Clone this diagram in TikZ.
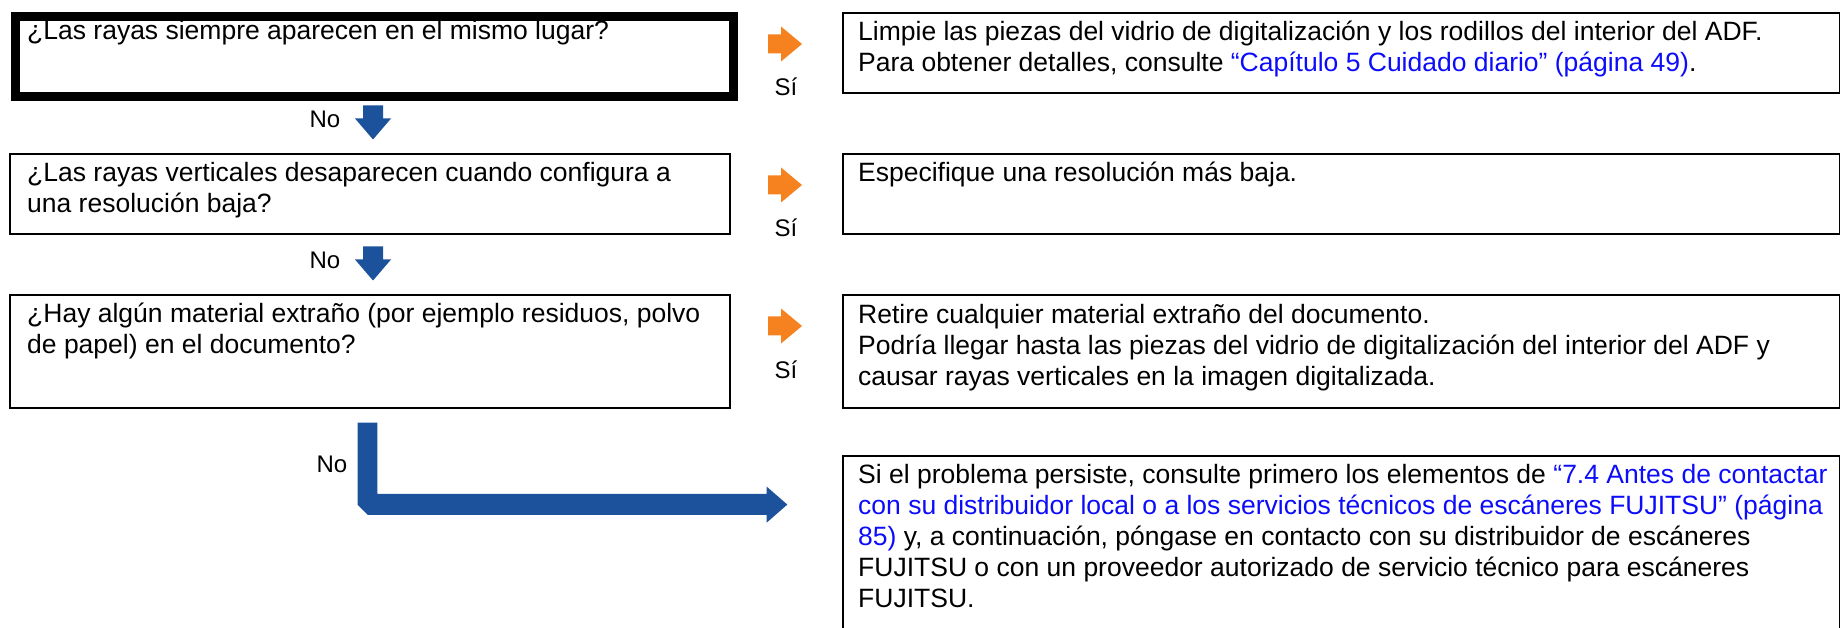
\documentclass[tikz,border=0pt]{standalone}
\usepackage{fontspec}
\setmainfont{Liberation Sans}
\usetikzlibrary{calc}
\definecolor{noblue}{RGB}{28,81,156}
\definecolor{siorange}{RGB}{246,130,31}
\definecolor{linkblue}{RGB}{12,12,250}
\tikzset{
  box/.style={draw, line width=1.6pt, anchor=north west, inner sep=0pt},
  txt/.style={anchor=base west, align=left, inner sep=0pt,
    font=\fontsize{26.5}{31}\selectfont},
  lbl/.style={anchor=base, inner sep=0pt, font=\fontsize{24}{28}\selectfont},
  pics/noarrow/.style={code={
    \fill[noblue] (-10,0) -- (10,0) -- (10,13) -- (18,13) -- (0,34) -- (-18,13) -- (-10,13) -- cycle;}},
  pics/siarrow/.style={code={
    \fill[siorange] (0,-9.5) -- (13,-9.5) -- (13,-17.5) -- (34,0) -- (13,17.5) -- (13,9.5) -- (0,9.5) -- cycle;}}
}
\begin{document}
\begin{tikzpicture}[x=1pt, y=-1pt]
\useasboundingbox (0,0) rectangle (1840,628);
% questions
\node[box, line width=8.5pt, minimum width=718, minimum height=80] (q1) at (11,12.5) {};
\node[box, minimum width=720, minimum height=80] (q2) at (9,153) {};
\node[box, minimum width=720, minimum height=113] (q3) at (9,294) {};
% text nodes sit on the baseline of their last line
\node[txt] (q1t) at ($(q1.north west)+(16,27)$) {¿Las rayas siempre aparecen en el mismo lugar?};
\node[txt] (q2t) at ($(q2.north west)+(18,60)$) {¿Las rayas verticales desaparecen cuando configura a\\una resolución baja?};
\node[txt] (q3t) at ($(q3.north west)+(18,60)$) {¿Hay algún material extraño (por ejemplo residuos, polvo\\de papel) en el documento?};
% answers
\node[box, minimum width=997, minimum height=80] (a1) at (842,12) {};
\node[box, minimum width=997, minimum height=80] (a2) at (842,153) {};
\node[box, minimum width=997, minimum height=113] (a3) at (842,294) {};
\node[box, minimum width=997, minimum height=180] (a4) at (842,455) {};
\node[txt] (a1t) at ($(a1.north west)+(16,60)$) {Limpie las piezas del vidrio de digitalización y los rodillos del interior del ADF.\\Para obtener detalles, consulte {\color{linkblue}“Capítulo 5 Cuidado diario” (página 49)}.};
\node[txt] (a2t) at ($(a2.north west)+(16,29)$) {Especifique una resolución más baja.};
\node[txt] (a3t) at ($(a3.north west)+(16,91)$) {Retire cualquier material extraño del documento.\\Podría llegar hasta las piezas del vidrio de digitalización del interior del ADF y\\causar rayas verticales en la imagen digitalizada.};
\node[txt] (a4t) at ($(a4.north west)+(16,152)$) {Si el problema persiste, consulte primero los elementos de {\color{linkblue}“7.4 Antes de contactar}\\{\color{linkblue}con su distribuidor local o a los servicios técnicos de escáneres FUJITSU” (página}\\{\color{linkblue}85)} y, a continuación, póngase en contacto con su distribuidor de escáneres\\FUJITSU o con un proveedor autorizado de servicio técnico para escáneres\\FUJITSU.};
% Si arrows
\foreach \a in {a1,a2,a3}{
  \pic at ($(\a.north west)+(-74,32)$) {siarrow};
  \node[lbl] (si-\a) at ($(\a.north west)+(-56,84)$) {Sí};
}
% No arrows
\foreach \q in {q2,q3}{
  \pic at ($(\q.north west)+(364,-47.5)$) {noarrow};
  \node[lbl] (no-\q) at ($(\q.north west)+(316,-25.5)$) {No};
}
\coordinate (nostart) at ($(q3.south west)+(348.7,14)$);
\fill[noblue] (nostart) -- ++(19.6,0) -- ++(0,71.3) -- ++(389.4,0) -- ++(0,-7.3) -- ++(20.6,18)
  -- ++(-20.6,18) -- ++(0,-7.7) -- ++(-399,0) -- ++(-10,-10) -- cycle;
\node[lbl] (no-end) at ($(q3.south west)+(323,64)$) {No};
\end{tikzpicture}
\end{document}
